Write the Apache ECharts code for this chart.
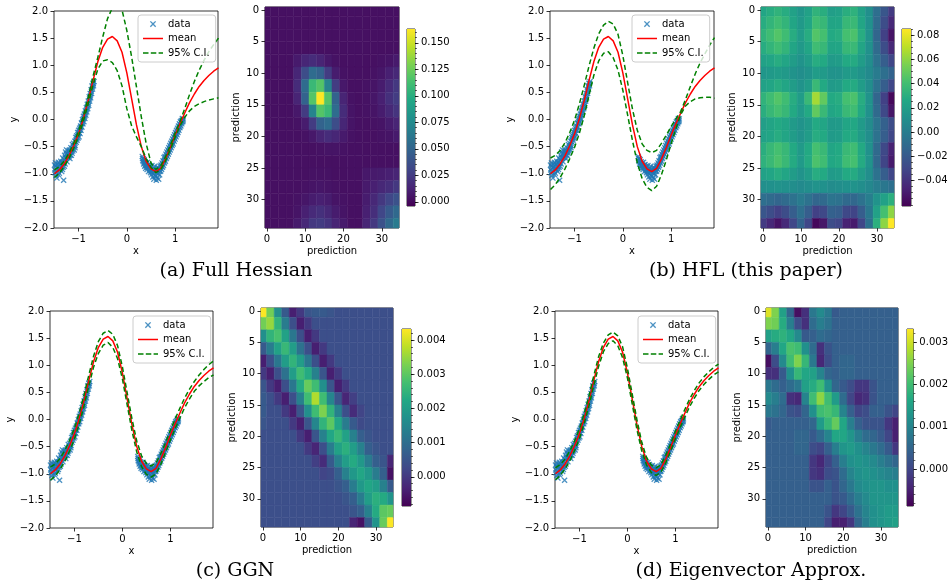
<!DOCTYPE html>
<html>
<head>
<meta charset="utf-8">
<script src="https://cdn.jsdelivr.net/npm/echarts@6/dist/echarts.min.js"></script>
<style>
  html, body { margin: 0; padding: 0; background: #fff; }
  #chart { width: 951px; height: 588px; }
</style>
</head>
<body>
<div id="chart"></div>
<script>
// prediction inputs (35 points) and MAP mean, shared by all four panels
const xGrid = [-1.5, -1.4, -1.3, -1.2, -1.1, -1.0, -0.9, -0.8, -0.7, -0.6, -0.5, -0.4, -0.3, -0.2, -0.1,
  0.0, 0.1, 0.2, 0.3, 0.4, 0.5, 0.6, 0.7, 0.8, 0.9, 1.0, 1.1, 1.2, 1.3, 1.4, 1.5, 1.6, 1.7, 1.8, 1.9];
const meanY = [-1.00, -0.93, -0.82, -0.67, -0.48, -0.26, 0.02, 0.35, 0.72, 1.07, 1.33, 1.48, 1.53, 1.45, 1.24,
  0.86, 0.38, -0.10, -0.50, -0.77, -0.91, -0.96, -0.90, -0.73, -0.52, -0.29, -0.08, 0.12, 0.31, 0.47, 0.61, 0.72, 0.81, 0.89, 0.95];

// (a) band edges read directly (not symmetric around the mean)
const upperA = [-0.93, -0.87, -0.77, -0.62, -0.43, -0.21, 0.07, 0.41, 0.80, 1.15, 1.52, 1.86, 2.06, 2.15, 2.02,
  1.64, 1.15, 0.60, 0.05, -0.44, -0.80, -0.92, -0.86, -0.69, -0.48, -0.25, -0.04, 0.20, 0.46, 0.70, 0.91, 1.09, 1.25, 1.38, 1.50];
const lowerA = [-1.07, -0.99, -0.87, -0.72, -0.53, -0.31, -0.03, 0.29, 0.64, 0.93, 1.08, 1.10, 1.05, 0.90, 0.62,
  0.20, -0.12, -0.32, -0.50, -0.72, -0.88, -0.98, -0.93, -0.77, -0.56, -0.33, -0.12, 0.04, 0.16, 0.24, 0.29, 0.33, 0.36, 0.38, 0.40];
// (b)-(d) half width of the 95% band, read as the gap between the dashed lines
const halfB = [0.29, 0.27, 0.25, 0.24, 0.24, 0.25, 0.27, 0.28, 0.27, 0.25, 0.25, 0.26, 0.28, 0.31, 0.33,
  0.32, 0.30, 0.29, 0.30, 0.32, 0.34, 0.35, 0.33, 0.29, 0.23, 0.16, 0.09, 0.03, 0.06, 0.14, 0.23, 0.32, 0.40, 0.48, 0.56];
const halfC = [0.12, 0.11, 0.10, 0.10, 0.10, 0.10, 0.10, 0.10, 0.10, 0.10, 0.11, 0.11, 0.11, 0.12, 0.12,
  0.11, 0.11, 0.11, 0.10, 0.10, 0.10, 0.10, 0.10, 0.10, 0.09, 0.09, 0.09, 0.09, 0.09, 0.09, 0.09, 0.10, 0.11, 0.12, 0.13];
const halfD = [0.11, 0.10, 0.09, 0.09, 0.09, 0.09, 0.09, 0.09, 0.09, 0.09, 0.08, 0.08, 0.08, 0.09, 0.10,
  0.09, 0.09, 0.09, 0.08, 0.07, 0.07, 0.07, 0.07, 0.07, 0.07, 0.07, 0.07, 0.07, 0.07, 0.07, 0.07, 0.07, 0.07, 0.07, 0.07];

// training data
const obsX = [
  -1.50, -1.49, -1.48, -1.47, -1.46, -1.45, -1.44, -1.43, -1.42, -1.41, -1.40, -1.39, -1.38, -1.37, -1.36, -1.35,
  -1.34, -1.33, -1.32, -1.31, -1.30, -1.29, -1.28, -1.27, -1.26, -1.25, -1.24, -1.23, -1.22, -1.21, -1.20, -1.19,
  -1.18, -1.17, -1.16, -1.15, -1.14, -1.13, -1.12, -1.11, -1.10, -1.09, -1.08, -1.07, -1.06, -1.05, -1.04, -1.03,
  -1.02, -1.01, -1.00, -0.99, -0.98, -0.97, -0.96, -0.95, -0.94, -0.93, -0.92, -0.91, -0.90, -0.89, -0.88, -0.87,
  -0.86, -0.85, -0.84, -0.83, -0.82, -0.81, -0.80, -0.79, -0.78, -0.77, -0.76, -0.75, -0.74, -0.73, -0.72, -0.71,
  -0.70, -0.69, -0.68,
  -1.495, -1.475, -1.455, -1.435, -1.415, -1.395, -1.375, -1.355, -1.335, -1.315, -1.295, -1.275, -1.255, -1.235,
  -1.215, -1.195, -1.175, -1.155, -1.135, -1.115, -1.095, -1.075, -1.055, -1.035, -1.015, -0.995, -0.975, -0.955,
  -0.935, -0.915, -0.895, -0.875, -0.855, -0.835, -0.815, -0.795, -0.775, -0.755, -0.735, -0.715, -0.695,
  0.32, 0.33, 0.34, 0.35, 0.36, 0.37, 0.38, 0.39, 0.40, 0.41, 0.42, 0.43, 0.44, 0.45, 0.46, 0.47, 0.48, 0.49,
  0.50, 0.51, 0.52, 0.53, 0.54, 0.55, 0.56, 0.57, 0.58, 0.59, 0.60, 0.61, 0.62, 0.63, 0.64, 0.65, 0.66, 0.67,
  0.68, 0.69, 0.70, 0.71, 0.72, 0.73, 0.74, 0.75, 0.76, 0.77, 0.78, 0.79, 0.80, 0.81, 0.82, 0.83, 0.84, 0.85,
  0.86, 0.87, 0.88, 0.89, 0.90, 0.91, 0.92, 0.93, 0.94, 0.95, 0.96, 0.97, 0.98, 0.99, 1.00, 1.01, 1.02, 1.03,
  1.04, 1.05, 1.06, 1.07, 1.08, 1.09, 1.10, 1.11, 1.12, 1.13, 1.14, 1.15, 1.16, 1.17,
  0.325, 0.345, 0.365, 0.385, 0.405, 0.425, 0.445, 0.465, 0.485, 0.505, 0.525, 0.545, 0.565, 0.585, 0.605,
  0.625, 0.645, 0.665, 0.685, 0.705, 0.725, 0.745, 0.765, 0.785, 0.805, 0.825, 0.845, 0.865, 0.885, 0.905,
  0.925, 0.945, 0.965, 0.985, 1.005, 1.025, 1.045, 1.065, 1.085, 1.105, 1.125, 1.145, 1.165];
const obsY = [
  -0.84, -0.98, -0.80, -1.03, -0.89, -1.08, -0.82, -0.94, -0.79, -0.91, -0.99, -0.82, -0.92, -0.77, -0.86, -0.96,
  -0.80, -0.71, -0.88, -1.12, -0.74, -0.66, -0.82, -0.60, -0.72, -0.56, -0.78, -0.63, -0.70, -0.58, -0.68, -0.56,
  -0.72, -0.60, -0.52, -0.66, -0.55, -0.46, -0.58, -0.50, -0.44, -0.56, -0.40, -0.48, -0.33, -0.42, -0.30, -0.38,
  -0.24, -0.34, -0.20, -0.32, -0.16, -0.26, -0.12, -0.20, -0.06, -0.14, 0.00, -0.08, 0.06, -0.04, 0.10, 0.02,
  0.16, 0.08, 0.22, 0.14, 0.28, 0.20, 0.34, 0.26, 0.42, 0.34, 0.48, 0.40, 0.55, 0.48, 0.62, 0.56,
  0.67, 0.62, 0.70,
  -0.93, -0.86, -0.97, -0.88, -1.02, -0.90, -0.84, -0.80, -0.92, -0.78, -0.86, -0.70, -0.64, -0.70,
  -0.64, -0.62, -0.66, -0.58, -0.62, -0.54, -0.48, -0.52, -0.38, -0.34, -0.28, -0.24, -0.20, -0.15,
  -0.08, -0.04, 0.02, 0.06, 0.12, 0.18, 0.24, 0.30, 0.38, 0.44, 0.52, 0.60, 0.66,
  -0.68, -0.76, -0.72, -0.82, -0.74, -0.86, -0.78, -0.90, -0.80, -0.84, -0.92, -0.79, -0.88, -0.96, -0.83, -0.92, -0.86, -0.98,
  -0.88, -1.02, -0.85, -0.94, -1.06, -0.90, -1.10, -0.96, -0.86, -1.04, -0.92, -1.12, -0.98, -1.08, -0.88, -1.00, -1.10, -0.92,
  -1.02, -0.86, -0.95, -0.84, -0.92, -0.80, -0.88, -0.76, -0.85, -0.70, -0.80, -0.68, -0.77, -0.64, -0.72, -0.60, -0.68, -0.56,
  -0.64, -0.52, -0.60, -0.48, -0.56, -0.44, -0.52, -0.40, -0.48, -0.36, -0.45, -0.32, -0.40, -0.28, -0.36, -0.24, -0.32, -0.20,
  -0.28, -0.16, -0.24, -0.12, -0.20, -0.08, -0.15, -0.04, -0.12, -0.02, -0.08, 0.02, -0.04, 0.01,
  -0.72, -0.78, -0.80, -0.84, -0.86, -0.88, -0.84, -0.88, -0.94, -0.95, -0.98, -0.92, -1.00, -0.94, -1.04,
  -0.94, -0.96, -0.90, -0.96, -0.90, -0.86, -0.82, -0.78, -0.74, -0.70, -0.66, -0.62, -0.58, -0.54, -0.50,
  -0.46, -0.42, -0.38, -0.34, -0.30, -0.26, -0.22, -0.18, -0.14, -0.10, -0.06, -0.04, -0.02];

// covariance between predictions, sampled every second prediction index
const covIdx = [0, 2, 4, 6, 8, 10, 12, 14, 16, 18, 20, 22, 24, 26, 28, 30, 32, 34];

const covA = [
  [.003, .003, .003, .003, .003, .003, .003, .003, .003, .003, .003, .003, .003, .003, .003, .003, .003, .003],
  [.003, .003, .003, .003, .003, .003, .003, .003, .003, .003, .003, .003, .003, .003, .003, .003, .003, .003],
  [.003, .003, .003, .003, .003, .003, .003, .003, .003, .003, .003, .003, .003, .003, .003, .003, .003, .003],
  [.003, .003, .003, .003, .003, .003, .003, .003, .003, .003, .003, .003, .003, .003, .003, .003, .003, .003],
  [.003, .003, .003, .003, .008, .014, .017, .013, .007, .004, .003, .003, .003, .003, .003, .004, .005, .008],
  [.003, .003, .003, .003, .014, .035, .055, .049, .025, .009, .004, .003, .003, .003, .004, .006, .011, .015],
  [.003, .003, .003, .003, .017, .055, .108, .118, .071, .025, .007, .003, .003, .004, .005, .009, .016, .023],
  [.003, .003, .003, .003, .013, .049, .118, .163, .118, .049, .013, .004, .003, .004, .006, .011, .019, .025],
  [.003, .003, .003, .003, .007, .025, .071, .118, .108, .055, .017, .005, .003, .004, .005, .009, .015, .021],
  [.003, .003, .003, .003, .004, .009, .025, .049, .055, .035, .014, .005, .003, .003, .004, .005, .009, .013],
  [.003, .003, .003, .003, .003, .004, .007, .013, .017, .014, .008, .004, .003, .003, .003, .004, .005, .008],
  [.003, .003, .003, .003, .003, .003, .003, .004, .005, .005, .004, .003, .003, .003, .003, .003, .003, .003],
  [.003, .003, .003, .003, .003, .003, .003, .003, .003, .003, .003, .003, .003, .003, .003, .003, .003, .003],
  [.003, .003, .003, .003, .003, .003, .004, .004, .004, .003, .003, .003, .003, .007, .008, .009, .011, .013],
  [.003, .003, .003, .003, .003, .004, .005, .006, .005, .004, .003, .003, .003, .008, .011, .015, .018, .023],
  [.003, .003, .003, .003, .004, .006, .009, .011, .009, .005, .004, .003, .003, .009, .015, .023, .031, .038],
  [.003, .003, .003, .003, .005, .011, .016, .019, .015, .009, .005, .003, .003, .011, .018, .031, .043, .053],
  [.003, .003, .003, .003, .008, .015, .023, .025, .021, .013, .008, .003, .003, .013, .023, .038, .053, .065]];

const covB = [
  [.025, .029, .033, .029, .022, .015, .022, .033, .030, .020, .022, .030, .032, .022, .011, -.008, -.022, -.036],
  [.029, .034, .039, .034, .025, .017, .025, .039, .036, .024, .025, .036, .037, .025, .012, -.010, -.027, -.044],
  [.033, .039, .045, .039, .029, .019, .029, .045, .041, .027, .029, .041, .043, .029, .013, -.013, -.033, -.053],
  [.029, .034, .039, .034, .025, .017, .025, .039, .036, .024, .025, .036, .037, .025, .012, -.010, -.027, -.044],
  [.022, .025, .029, .025, .019, .013, .019, .029, .027, .018, .019, .027, .028, .019, .010, -.006, -.018, -.030],
  [.015, .017, .019, .017, .013, .010, .013, .019, .018, .013, .013, .018, .018, .013, .008, -.001, -.008, -.015],
  [.022, .025, .029, .025, .019, .013, .019, .037, .027, .018, .019, .027, .028, .019, .010, -.006, -.018, -.030],
  [.033, .039, .045, .039, .029, .019, .037, .065, .049, .027, .029, .041, .043, .029, .013, -.013, -.033, -.058],
  [.030, .036, .041, .036, .027, .018, .027, .049, .037, .025, .027, .037, .039, .027, .012, -.011, -.029, -.052],
  [.020, .024, .027, .024, .018, .013, .018, .027, .025, .017, .018, .025, .026, .018, .009, -.005, -.016, -.027],
  [.022, .025, .029, .025, .019, .013, .019, .029, .027, .018, .019, .027, .028, .019, .010, -.006, -.018, -.030],
  [.030, .036, .041, .036, .027, .018, .027, .041, .037, .025, .027, .037, .039, .027, .012, -.011, -.029, -.047],
  [.032, .037, .043, .037, .028, .018, .028, .043, .039, .026, .028, .039, .041, .028, .013, -.012, -.031, -.050],
  [.022, .025, .029, .025, .019, .013, .019, .029, .027, .018, .019, .027, .028, .019, .010, -.006, -.018, -.030],
  [.011, .012, .013, .012, .010, .008, .010, .013, .012, .009, .010, .012, .013, .010, .007, .001, -.003, -.007],
  [-.008, -.010, -.013, -.010, -.006, -.001, -.006, -.013, -.011, -.005, -.006, -.011, -.012, -.006, .001, .013, .022, .031],
  [-.022, -.027, -.033, -.027, -.018, -.008, -.018, -.033, -.029, -.016, -.018, -.029, -.031, -.018, -.003, .022, .041, .060],
  [-.036, -.044, -.053, -.044, -.030, -.015, -.030, -.058, -.052, -.027, -.030, -.047, -.050, -.030, -.007, .031, .060, .085]];

const covC = [
  [.0043, .0032, .0017, .0006, -.0004, .0000, .0005, .0006, .0006, .0005, .0004, .0004, .0004, .0004, .0004, .0004, .0004, .0004],
  [.0032, .0035, .0025, .0013, .0004, -.0004, .0000, .0004, .0004, .0004, .0004, .0004, .0004, .0004, .0004, .0004, .0004, .0004],
  [.0017, .0025, .0028, .0021, .0012, .0004, -.0004, .0000, .0004, .0004, .0004, .0004, .0004, .0004, .0004, .0004, .0004, .0004],
  [.0006, .0013, .0021, .0026, .0020, .0011, .0004, -.0004, .0000, .0004, .0004, .0004, .0004, .0004, .0004, .0004, .0004, .0004],
  [-.0004, .0004, .0012, .0020, .0025, .0020, .0012, .0004, -.0004, .0000, .0004, .0004, .0004, .0004, .0004, .0004, .0004, .0004],
  [.0000, -.0004, .0004, .0011, .0020, .0027, .0023, .0014, .0005, -.0004, .0000, .0004, .0004, .0004, .0004, .0004, .0004, .0004],
  [.0005, .0000, -.0004, .0004, .0012, .0023, .0031, .0027, .0017, .0005, -.0004, .0000, .0004, .0004, .0004, .0004, .0004, .0004],
  [.0006, .0004, .0000, -.0004, .0004, .0014, .0027, .0037, .0027, .0015, .0005, -.0003, .0001, .0004, .0004, .0004, .0004, .0004],
  [.0006, .0004, .0004, .0000, -.0004, .0005, .0017, .0027, .0033, .0025, .0014, .0004, -.0002, .0002, .0004, .0004, .0004, .0004],
  [.0005, .0004, .0004, .0004, .0000, -.0004, .0005, .0015, .0025, .0030, .0022, .0013, .0006, .0003, .0004, .0004, .0004, .0004],
  [.0004, .0004, .0004, .0004, .0004, .0000, -.0004, .0005, .0014, .0022, .0026, .0021, .0014, .0007, .0005, .0004, .0004, .0004],
  [.0004, .0004, .0004, .0004, .0004, .0004, .0000, -.0003, .0004, .0013, .0021, .0024, .0020, .0014, .0007, .0005, .0004, .0004],
  [.0004, .0004, .0004, .0004, .0004, .0004, .0004, .0001, -.0002, .0006, .0014, .0020, .0023, .0019, .0013, .0007, .0005, -.0003],
  [.0004, .0004, .0004, .0004, .0004, .0004, .0004, .0004, .0002, .0003, .0007, .0014, .0019, .0022, .0019, .0013, .0007, -.0006],
  [.0004, .0004, .0004, .0004, .0004, .0004, .0004, .0004, .0004, .0004, .0005, .0007, .0013, .0019, .0022, .0020, .0014, .0006],
  [.0004, .0004, .0004, .0004, .0004, .0004, .0004, .0004, .0004, .0004, .0004, .0005, .0007, .0013, .0020, .0024, .0023, .0018],
  [.0004, .0004, .0004, .0004, .0004, .0004, .0004, .0004, .0004, .0004, .0004, .0004, .0005, .0007, .0014, .0023, .0030, .0031],
  [.0004, .0004, .0004, .0004, .0004, .0004, .0004, .0004, .0004, .0004, .0004, .0004, -.0003, -.0006, .0006, .0018, .0031, .0043]];

const covD = [
  [.0031, .0025, .0015, .0005, -.0007, -.0003, .0008, .0011, .0008, .0003, .0004, .0004, .0004, .0004, .0004, .0004, .0004, .0004],
  [.0025, .0024, .0017, .0009, .0001, -.0003, .0006, .0009, .0007, .0004, .0004, .0004, .0004, .0004, .0004, .0004, .0004, .0004],
  [.0015, .0017, .0018, .0016, .0011, .0003, .0004, .0006, .0005, .0004, .0004, .0004, .0004, .0004, .0004, .0004, .0004, .0004],
  [.0005, .0009, .0016, .0021, .0020, .0012, .0006, -.0003, .0002, .0004, .0004, .0004, .0004, .0004, .0004, .0004, .0004, .0004],
  [-.0007, .0001, .0011, .0020, .0025, .0019, .0008, -.0004, .0001, .0004, .0005, .0005, .0004, .0004, .0004, .0004, .0004, .0004],
  [-.0003, -.0003, .0003, .0012, .0019, .0016, .0015, .0010, .0005, .0004, .0005, .0005, .0004, .0004, .0004, .0004, .0004, .0004],
  [.0008, .0006, .0004, .0006, .0008, .0015, .0017, .0020, .0012, .0005, .0003, .0001, -.0002, -.0002, .0002, .0004, .0004, .0004],
  [.0011, .0009, .0006, -.0003, -.0004, .0010, .0020, .0026, .0020, .0014, .0006, .0000, -.0004, -.0003, .0002, .0004, .0004, .0004],
  [.0008, .0007, .0005, .0002, .0001, .0005, .0012, .0020, .0021, .0019, .0010, .0004, .0000, .0001, .0004, .0004, .0002, .0000],
  [.0003, .0004, .0004, .0004, .0004, .0004, .0005, .0014, .0019, .0023, .0016, .0009, .0004, .0002, .0002, .0002, -.0002, -.0005],
  [.0004, .0004, .0004, .0004, .0005, .0005, .0003, .0006, .0010, .0016, .0016, .0013, .0009, .0006, .0005, .0003, .0000, -.0005],
  [.0004, .0004, .0004, .0004, .0005, .0005, .0001, .0000, .0004, .0009, .0013, .0014, .0012, .0010, .0008, .0006, .0003, -.0002],
  [.0004, .0004, .0004, .0004, .0004, .0004, -.0002, -.0004, .0000, .0004, .0009, .0012, .0013, .0012, .0011, .0009, .0007, .0005],
  [.0004, .0004, .0004, .0004, .0004, .0004, -.0002, -.0003, .0001, .0002, .0006, .0010, .0012, .0013, .0012, .0011, .0010, .0009],
  [.0004, .0004, .0004, .0004, .0004, .0004, .0002, .0002, .0004, .0002, .0005, .0008, .0011, .0012, .0013, .0013, .0012, .0012],
  [.0004, .0004, .0004, .0004, .0004, .0004, .0004, .0004, .0004, .0002, .0003, .0006, .0009, .0011, .0013, .0013, .0013, .0013],
  [.0004, .0004, .0004, .0004, .0004, .0004, .0004, .0004, .0002, -.0002, .0000, .0003, .0007, .0010, .0012, .0013, .0014, .0014],
  [.0004, .0004, .0004, .0004, .0004, .0004, .0004, .0004, .0000, -.0005, -.0005, -.0002, .0005, .0009, .0012, .0013, .0014, .0015]];

// colour bar ranges and tick labels
const rangeA = [-0.004, 0.163];
const rangeB = [-0.061, 0.085];
const rangeC = [-0.00085, 0.00432];
const rangeD = [-0.00087, 0.00331];
const cbTicksA = [0, 0.025, 0.05, 0.075, 0.1, 0.125, 0.15];
const cbTicksB = [-0.04, -0.02, 0, 0.02, 0.04, 0.06, 0.08];
const cbTicksC = [0, 0.001, 0.002, 0.003, 0.004];
const cbTicksD = [0, 0.001, 0.002, 0.003];

const lineXTicks = [-1, 0, 1];
const heatXTicks = [0, 10, 20, 30];
const heatYTicks = [0, 5, 10, 15, 20, 25, 30];
const captions = ['(a) Full Hessian', '(b) HFL (this paper)', '(c) GGN', '(d) Eigenvector Approx.'];

const FONT = 'DejaVu Sans';
const VIRIDIS = ['#440154', '#482475', '#414487', '#355f8d', '#2a788e', '#21918c',
  '#22a884', '#44bf70', '#7ad151', '#bddf26', '#fde725'];
const X_MARK = 'path://M0,1.5L1.5,0L5,3.5L8.5,0L10,1.5L6.5,5L10,8.5L8.5,10L5,6.5L1.5,10L0,8.5L3.5,5Z';
// legend handles: the x marker padded by empty segments so it is drawn smaller
const X_KEY = 'path://M-3,-3L-3,-3M13,13L13,13M0,1.5L1.5,0L5,3.5L8.5,0L10,1.5L6.5,5L10,8.5L8.5,10L5,6.5L1.5,10L0,8.5L3.5,5Z';
const SOLID_KEY = 'path://M0,0H20V1.5H0Z';
const DASH_KEY = 'path://M0,0H5.5V1.5H0ZM7.8,0H13.3V1.5H7.8ZM15.6,0H20V1.5H15.6Z';

// pixel boxes: [left, top, width, height]
const layout = [
  { line: [54, 11, 164, 217], heat: [265, 7, 134, 221], bar: [407, 29, 8, 177], legend: [138, 15], caption: [236, 271] },
  { line: [550, 11, 164, 217], heat: [761, 7, 133, 221], bar: [902, 29, 9, 177], legend: [632, 15], caption: [746, 271] },
  { line: [50, 311, 163, 217], heat: [261, 308, 132, 219], bar: [402, 329, 9, 177], legend: [133, 316], caption: [235, 571] },
  { line: [555, 311, 163, 217], heat: [766, 308, 132, 219], bar: [907, 329, 8, 177], legend: [638, 316], caption: [751, 571] }
];

document.addEventListener('DOMContentLoaded', () => {
  const chart = echarts.init(document.getElementById('chart'), null, { renderer: 'canvas' });
  chart.setOption(buildOptions());
});

const minus = s => s.replace('-', '\u2212');

function box(b) {
  return {
    left: b[0], top: b[1], width: b[2], height: b[3],
    show: true, borderColor: '#000', borderWidth: 0.8, backgroundColor: 'transparent'
  };
}

function axisBase(gridIndex, min, max, ticks, fmt) {
  const ax = {
    type: 'value', gridIndex, min, max,
    splitLine: { show: false },
    axisLine: { show: false, onZero: false },
    axisTick: { show: true, inside: false, length: 3.5, lineStyle: { color: '#000', width: 0.8 } },
    axisLabel: { formatter: fmt, color: '#000', fontFamily: FONT, fontSize: 10, margin: 6 },
    nameLocation: 'middle',
    nameTextStyle: { color: '#000', fontFamily: FONT, fontSize: 10 }
  };
  if (ticks) {
    ax.axisTick.customValues = ticks;
    ax.axisLabel.customValues = ticks;
  }
  return ax;
}

function lineSeries(name, g, y, ys, color, type) {
  return {
    type: 'line', name, xAxisIndex: g, yAxisIndex: y,
    data: xGrid.map((x, i) => [x, ys[i]]),
    symbol: 'none', z: 3,
    lineStyle: { color, width: 1.5, type },
    itemStyle: { color }
  };
}

function heatItem(params, api) {
  const cx = api.value(0), cy = api.value(1);
  const a = api.coord([cx - 1, cy - 1]);
  const b = api.coord([cx + 1, cy + 1]);
  const cs = params.coordSys;
  const rect = echarts.graphic.clipRectByRect(
    { x: Math.min(a[0], b[0]), y: Math.min(a[1], b[1]), width: Math.abs(b[0] - a[0]), height: Math.abs(b[1] - a[1]) },
    { x: cs.x, y: cs.y, width: cs.width, height: cs.height });
  if (!rect) return;
  const color = api.visual('color');
  return { type: 'rect', shape: rect, style: { fill: color, stroke: color, lineWidth: 0.5 } };
}

function barItem(params, api) {
  const p0 = api.coord([api.value(0), api.value(1)]);
  const p1 = api.coord([api.value(2), api.value(3)]);
  const stops = VIRIDIS.map((c, i) => ({ offset: i / (VIRIDIS.length - 1), color: c }));
  return {
    type: 'rect',
    shape: { x: p0[0], y: p1[1], width: p1[0] - p0[0], height: p0[1] - p1[1] },
    style: { fill: new echarts.graphic.LinearGradient(0, 1, 0, 0, stops) }
  };
}

function minorTicks(lo, hi, step) {
  const out = [];
  for (let k = Math.ceil(lo / step); k * step <= hi; k++) out.push(+(k * step).toFixed(6));
  return out;
}

function buildOptions() {
  const grid = [], xAxis = [], yAxis = [], series = [], visualMap = [], legend = [], graphic = [];
  const bands = [
    [upperA, lowerA],
    [meanY.map((m, i) => m + halfB[i]), meanY.map((m, i) => m - halfB[i])],
    [meanY.map((m, i) => m + halfC[i]), meanY.map((m, i) => m - halfC[i])],
    [meanY.map((m, i) => m + halfD[i]), meanY.map((m, i) => m - halfD[i])]
  ];
  const covs = [covA, covB, covC, covD];
  const ranges = [rangeA, rangeB, rangeC, rangeD];
  const ticks = [cbTicksA, cbTicksB, cbTicksC, cbTicksD];
  const minorStep = [0.005, 0.005, 0.0002, 0.0002];
  const digits = [3, 2, 3, 3];

  layout.forEach((L, p) => {
    // regression plot
    let g = grid.length;
    grid.push(box(L.line));
    xAxis.push(Object.assign(axisBase(g, -1.51, 1.89, lineXTicks, v => minus(String(v))),
      { name: 'x', nameGap: 18 }));
    let y = yAxis.length;
    yAxis.push(Object.assign(axisBase(g, -2, 2, null, v => minus(v.toFixed(1))),
      { interval: 0.5, name: 'y', nameGap: 33 }));

    series.push({
      type: 'scatter', name: 'data', xAxisIndex: g, yAxisIndex: y,
      data: obsX.map((x, i) => [x, obsY[i]]),
      symbol: X_MARK, symbolSize: 6, z: 2,
      itemStyle: { color: '#1f77b4' }
    });
    series.push(lineSeries('mean', g, y, meanY, '#ff0000', 'solid'));
    series.push(lineSeries('95% C.I.', g, y, bands[p][0], '#008000', [5, 3]));
    series.push(lineSeries('95% C.I.', g, y, bands[p][1], '#008000', [5, 3]));

    legend.push({
      orient: 'vertical', left: L.legend[0], top: L.legend[1],
      data: [{ name: 'data', icon: X_KEY }, { name: 'mean', icon: SOLID_KEY }, { name: '95% C.I.', icon: DASH_KEY }],
      itemWidth: 20, itemHeight: 10, itemGap: 4.5, padding: [4, 6, 4, 5],
      itemStyle: { borderWidth: 0 },
      backgroundColor: 'rgba(255,255,255,0.8)', borderColor: '#cccccc', borderWidth: 1, borderRadius: 3,
      selectedMode: false,
      textStyle: { fontFamily: FONT, fontSize: 10, color: '#000' }
    });

    // covariance heatmap
    g = grid.length;
    grid.push(box(L.heat));
    xAxis.push(Object.assign(axisBase(g, -0.5, 34.5, heatXTicks, v => String(v)),
      { name: 'prediction', nameGap: 18 }));
    y = yAxis.length;
    yAxis.push(Object.assign(axisBase(g, -0.5, 34.5, heatYTicks, v => String(v)),
      { inverse: true, name: 'prediction', nameGap: 24 }));
    const cells = [];
    covs[p].forEach((row, i) => row.forEach((v, j) => cells.push([covIdx[j], covIdx[i], v])));
    visualMap.push({
      type: 'continuous', show: false, seriesIndex: series.length, dimension: 2,
      min: ranges[p][0], max: ranges[p][1], inRange: { color: VIRIDIS }
    });
    series.push({ type: 'custom', xAxisIndex: g, yAxisIndex: y, data: cells, renderItem: heatItem, silent: true });

    // colour bar
    g = grid.length;
    grid.push(box(L.bar));
    xAxis.push({ type: 'value', gridIndex: g, min: 0, max: 1, show: false });
    y = yAxis.length;
    const fmt = v => minus(v.toFixed(digits[p]));
    yAxis.push(Object.assign(axisBase(g, ranges[p][0], ranges[p][1], ticks[p], fmt), { position: 'right' }));
    yAxis.push({
      type: 'value', gridIndex: g, position: 'right', min: ranges[p][0], max: ranges[p][1],
      splitLine: { show: false }, axisLine: { show: false, onZero: false }, axisLabel: { show: false },
      axisTick: { show: true, length: 2, customValues: minorTicks(ranges[p][0], ranges[p][1], minorStep[p]),
        lineStyle: { color: '#000', width: 0.6 } }
    });
    series.push({
      type: 'custom', xAxisIndex: g, yAxisIndex: y, silent: true,
      data: [[0, ranges[p][0], 1, ranges[p][1]]], renderItem: barItem
    });

    graphic.push({
      type: 'text', x: L.caption[0], y: L.caption[1],
      style: { text: captions[p], fill: '#000', fontFamily: 'DejaVu Serif', fontSize: 19, align: 'center', verticalAlign: 'middle' }
    });
  });

  return { animation: false, backgroundColor: '#fff', grid, xAxis, yAxis, series, visualMap, legend, graphic };
}
</script>
</body>
</html>
